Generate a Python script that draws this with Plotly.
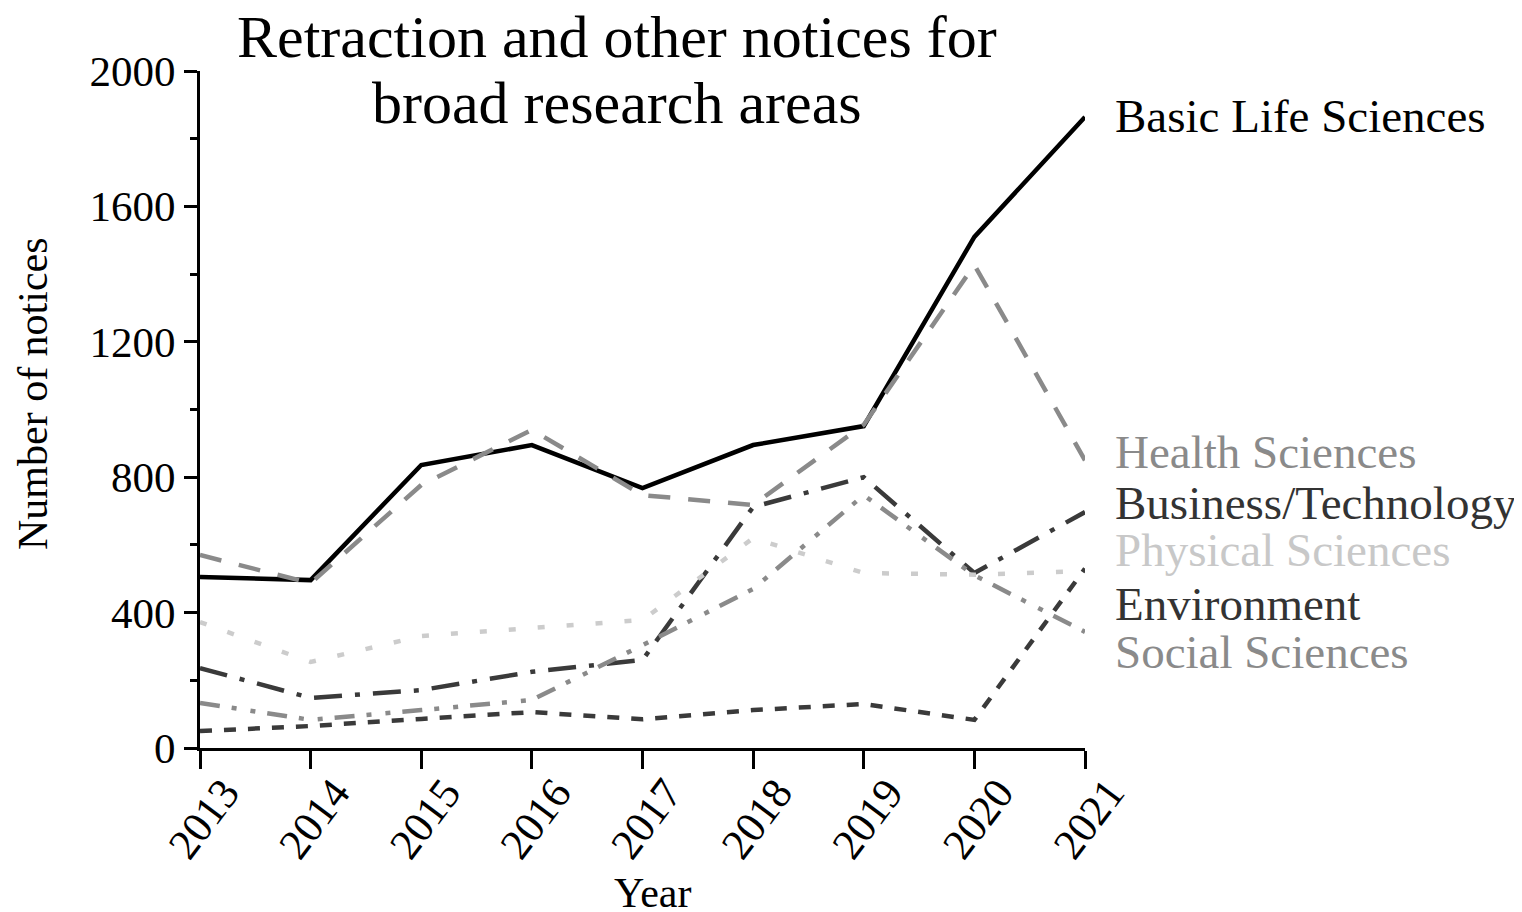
import plotly.graph_objects as go

years = [2013, 2014, 2015, 2016, 2017, 2018, 2019, 2020, 2021]

basic_life = [505, 496, 836, 895, 768, 895, 951, 1510, 1864]
health = [570, 487, 777, 940, 747, 718, 955, 1427, 850]
business_tech = [236, 148, 171, 225, 260, 712, 800, 517, 697]
physical = [372, 254, 331, 354, 378, 620, 517, 512, 523]
environment = [50, 65, 86, 106, 85, 112, 130, 83, 530]
social = [133, 83, 112, 142, 304, 470, 747, 510, 343]

series_names = ["Basic Life Sciences", "Health Sciences", "Business/Technology",
                "Physical Sciences", "Environment", "Social Sciences"]
series_values = [basic_life, health, business_tech, physical, environment, social]
line_colors = ["#000000", "#8a8a8a", "#3a3a3a", "#cccccc", "#3a3a3a", "#8a8a8a"]
label_colors = ["#000000", "#8a8a8a", "#333333", "#c8c8c8", "#333333", "#8a8a8a"]
dashes = ["solid", "22px,18px", "28px,13px,5px,13px", "7px,22px", "12px,12px",
          "20px,12px,5px,14px,5px,12px"]
label_y = [1867, 874, 724, 585, 425, 284]

FONT = "Liberation Serif"

# plot area in page pixels (the page has an 8px offset)
PL, PR, PT, PB = 200, 1085, 71, 748
PW, PH = PR - PL, PB - PT


def px_x(x):
    return (x - PL) / PW


def px_y(y):
    return (PB - y) / PH


fig = go.Figure()
for name, vals, col, dash in zip(series_names, series_values, line_colors, dashes):
    fig.add_trace(go.Scatter(x=years, y=vals, mode="lines", name=name,
                             line=dict(color=col, width=4.5, dash=dash),
                             showlegend=False))

annotations = []
for name, ly, col in zip(series_names, label_y, label_colors):
    annotations.append(dict(text=name, x=px_x(1113), xref="paper", y=ly, yref="y",
                            xanchor="left", yanchor="middle", showarrow=False,
                            font=dict(family=FONT, size=47, color=col)))

annotations.append(dict(text="Retraction and other notices for", x=px_x(617), xref="paper",
                        y=px_y(37), yref="paper", xanchor="center", yanchor="middle",
                        showarrow=False, font=dict(family=FONT, size=60, color="black")))
annotations.append(dict(text="broad research areas", x=px_x(617), xref="paper",
                        y=px_y(103), yref="paper", xanchor="center", yanchor="middle",
                        showarrow=False, font=dict(family=FONT, size=60, color="black")))
annotations.append(dict(text="Number of notices", x=px_x(33), xref="paper",
                        y=px_y(394), yref="paper", textangle=-90,
                        xanchor="center", yanchor="middle", showarrow=False,
                        font=dict(family=FONT, size=42, color="black")))
annotations.append(dict(text="Year", x=px_x(652), xref="paper",
                        y=px_y(893), yref="paper",
                        xanchor="center", yanchor="middle", showarrow=False,
                        font=dict(family=FONT, size=42, color="black")))

fig.update_layout(
    width=1514, height=904,
    margin=dict(l=PL - 8, r=1522 - PR, t=PT - 8, b=912 - PB),
    paper_bgcolor="white", plot_bgcolor="white",
    font=dict(family=FONT, color="black"),
    annotations=annotations,
    xaxis=dict(range=[2013, 2021], tickvals=years, ticktext=[str(y) for y in years],
               tickangle=-53, showline=True, linecolor="black", linewidth=3,
               ticks="outside", ticklen=18, tickwidth=3, tickcolor="black",
               ticklabelshift=24, ticklabelstandoff=-19,
               showgrid=False, zeroline=False,
               tickfont=dict(family=FONT, size=43, color="black")),
    yaxis=dict(range=[0, 2000], tickvals=[0, 400, 800, 1200, 1600, 2000],
               showline=True, linecolor="black", linewidth=3,
               ticks="outside", ticklen=13, tickwidth=3, tickcolor="black",
               minor=dict(tickvals=[200, 600, 1000, 1400, 1800], ticks="outside",
                          ticklen=7, tickwidth=3, tickcolor="black"),
               showgrid=False, zeroline=False,
               tickfont=dict(family=FONT, size=43, color="black")),
)

fig.write_html("out.html")
